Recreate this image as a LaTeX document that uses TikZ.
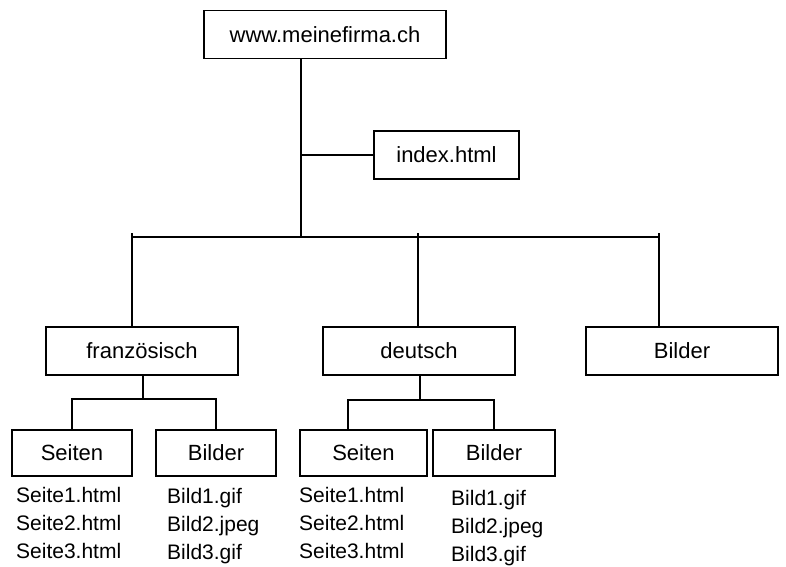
\documentclass[tikz,border=0pt]{standalone}
\usepackage{fontspec}
\setmainfont{Liberation Sans}
\usepackage{tikz}
\usetikzlibrary{positioning,calc}

\begin{document}
\begin{tikzpicture}[x=1pt, y=-1pt,
    box/.style={rectangle, draw, line width=1.7pt, minimum height=48pt, inner sep=0pt, font=\fontsize{22}{26}\selectfont},
    list/.style={anchor=north west, align=left, inner sep=0pt, font=\fontsize{21}{28}\selectfont},
    line/.style={line width=1.7pt}]
    \useasboundingbox (0,0) rectangle (786,566);

    % Root and index
    \node[box, minimum width=242pt] (root) at (325,34.5) {www.meinefirma.ch};
    \node[box, minimum width=145pt] (index) at (446.5,155) {index.html};

    % Second level
    \node[box, minimum width=192pt] (franz) at (142,351) {französisch};
    \node[box, minimum width=192pt] (deutsch) at (419,351) {deutsch};
    \node[box, minimum width=192pt] (bilder) at (682,351) {Bilder};

    % Third level
    \node[box, minimum width=120pt, minimum height=46pt] (frseiten) at (72,453) {Seiten};
    \node[box, minimum width=120pt, minimum height=46pt] (frbilder) at (216,453) {Bilder};
    \node[box, minimum width=127pt, minimum height=46pt] (deseiten) at (363.5,453) {Seiten};
    \node[box, minimum width=122pt, minimum height=46pt] (debilder) at (494,453) {Bilder};

    % File lists
    \node[list] (frseitenlist) at (16,487) {Seite1.html\\Seite2.html\\Seite3.html};
    \node[list] (frbilderlist) at (167,488) {Bild1.gif\\Bild2.jpeg\\Bild3.gif};
    \node[list] (deseitenlist) at (299,487) {Seite1.html\\Seite2.html\\Seite3.html};
    \node[list] (debilderlist) at (451,490) {Bild1.gif\\Bild2.jpeg\\Bild3.gif};

    % Trunk and bus
    \coordinate (trunk) at (301,237);
    \coordinate (busl) at (132,237);
    \coordinate (busm) at (418,237);
    \coordinate (busr) at (659,237);
    \draw[line] (trunk |- root.south) -- (trunk);
    \draw[line] (trunk |- index.west) -- (index.west);
    \draw[line] (busl) -- (busr);
    \draw[line] ([yshift=4pt]busl) -- (busl |- franz.north);
    \draw[line] ([yshift=4pt]busm) -- (busm |- deutsch.north);
    \draw[line] ([yshift=4pt]busr) -- (busr |- bilder.north);

    % Sub-trees
    \coordinate (frbus) at (143,399);
    \draw[line] (frbus |- franz.south) -- (frbus);
    \draw[line] (frseiten.north) -- (frseiten.north |- frbus) -- (frbilder.north |- frbus) -- (frbilder.north);
    \coordinate (debus) at (420,400);
    \coordinate (debusl) at (348,400);
    \draw[line] (debus |- deutsch.south) -- (debus);
    \draw[line] (debusl |- deseiten.north) -- (debusl) -- (debilder.north |- debus) -- (debilder.north);

\end{tikzpicture}
\end{document}
